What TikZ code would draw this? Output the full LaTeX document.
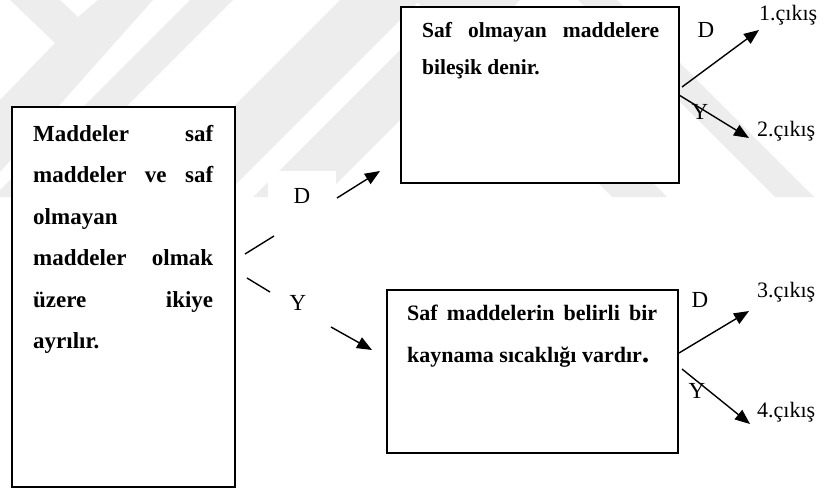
\documentclass[tikz,border=0pt]{standalone}
\usepackage{fontspec}
\setmainfont{Liberation Serif}
\usetikzlibrary{arrows.meta}
\begin{document}
\begin{tikzpicture}[x=1pt,y=-1pt,
  box/.style={draw=black, line width=1.8pt, fill=white, inner sep=0pt},
  boxtext/.style={anchor=base west, inner sep=0pt},
  lbl/.style={anchor=base, inner sep=0pt, font=\fontsize{23}{23}\selectfont},
  outlbl/.style={anchor=base west, inner sep=0pt, font=\fontsize{22}{22}\selectfont},
  link/.style={line width=1.4pt},
  arr/.style={line width=1.4pt, -{Triangle[length=15pt,width=12pt]}},
  wmark/.style={fill=black!7, draw=none}
]
\useasboundingbox (0,0) rectangle (824,488);
\fill[white] (0,0) rectangle (824,488);

% faint background logo stripes
\begin{scope}
  \clip (0,0) rectangle (824,197);
  \fill[wmark] (10,0) -- (60,0) -- (78,17) -- (98,0) -- (153,0) -- (0,172) -- (0,100) -- (55,43) -- cycle;
  \fill[wmark] (190,0) -- (233,0) -- (36,197) -- (-7,197) -- cycle;
  \fill[wmark] (340,0) -- (420,0) -- (223,197) -- (143,197) -- cycle;
  \fill[wmark] (450,0) -- (520,0) -- (323,197) -- (253,197) -- cycle;
  \fill[wmark] (415,0) -- (470,0) -- (667,197) -- (612,197) -- cycle;
  \fill[wmark] (578,0) -- (617,0) -- (814,197) -- (775,197) -- cycle;
\end{scope}

% boxes
\node[box, minimum width=223pt, minimum height=380pt] (root) at (123.5,297) {};
\node[box, minimum width=278pt, minimum height=176pt] (upper) at (540,95) {};
\node[box, minimum width=291pt, minimum height=163pt] (lower) at (532.5,371.5) {};

% box texts
\node[boxtext] (roottxt) at (33,141) {\parbox[t]{180pt}{\fontsize{23}{41.5}\selectfont\bfseries
  Maddeler\hfill saf\\
  maddeler\hfill ve\hfill saf\\
  olmayan\\
  maddeler\hfill olmak\\
  üzere\hfill ikiye\\
  ayrılır.}};
\node[boxtext] (uppertxt) at (422,37) {\parbox[t]{237pt}{\fontsize{21.5}{37}\selectfont\bfseries
  Saf\hfill olmayan\hfill maddelere\\
  bileşik denir.}};
\node[boxtext] (lowertxt) at (407,320) {\parbox[t]{250pt}{\fontsize{22}{42}\selectfont\bfseries
  Saf\hfill maddelerin\hfill belirli\hfill bir\\
  kaynama sıcaklığı vardır{\fontsize{30}{30}\selectfont.}}};

% connector end points
\coordinate (dA) at (245,254);
\coordinate (dB) at (274,236);
\coordinate (dC) at (337,198);
\coordinate (dT) at (380,171);
\coordinate (yA) at (247,278);
\coordinate (yB) at (270,292);
\coordinate (yC) at (331,327);
\coordinate (yT) at (372,350);
\coordinate (u1s) at (682,87);
\coordinate (u1t) at (759,30);
\coordinate (u2s) at (679,95);
\coordinate (u2t) at (749,138);
\coordinate (l3s) at (679,353);
\coordinate (l3t) at (749,311);
\coordinate (l4s) at (682,369);
\coordinate (l4t) at (750,424);

% branch labels
\node[lbl, fill=white, inner xsep=26pt, text height=32pt] (dmid) at (302,203) {D};
\node[lbl] (ymid) at (298,310) {Y};
\node[lbl] (dup) at (706,37) {D};
\node[lbl] (yup) at (700,119) {Y};
\node[lbl] (dlow) at (700,307) {D};
\node[lbl] (ylow) at (697,398) {Y};

% connectors
\draw[link] (dA) -- (dB);
\draw[arr] (dC) -- (dT);
\draw[link] (yA) -- (yB);
\draw[arr] (yC) -- (yT);
\draw[arr] (u1s) -- (u1t);
\draw[arr] (u2s) -- (u2t);
\draw[arr] (l3s) -- (l3t);
\draw[arr] (l4s) -- (l4t);

% outputs
\node[outlbl] (out1) at (759,20) {1.çıkış};
\node[outlbl] (out2) at (757,136) {2.çıkış};
\node[outlbl] (out3) at (757,297) {3.çıkış};
\node[outlbl] (out4) at (757,417) {4.çıkış};
\end{tikzpicture}
\end{document}
